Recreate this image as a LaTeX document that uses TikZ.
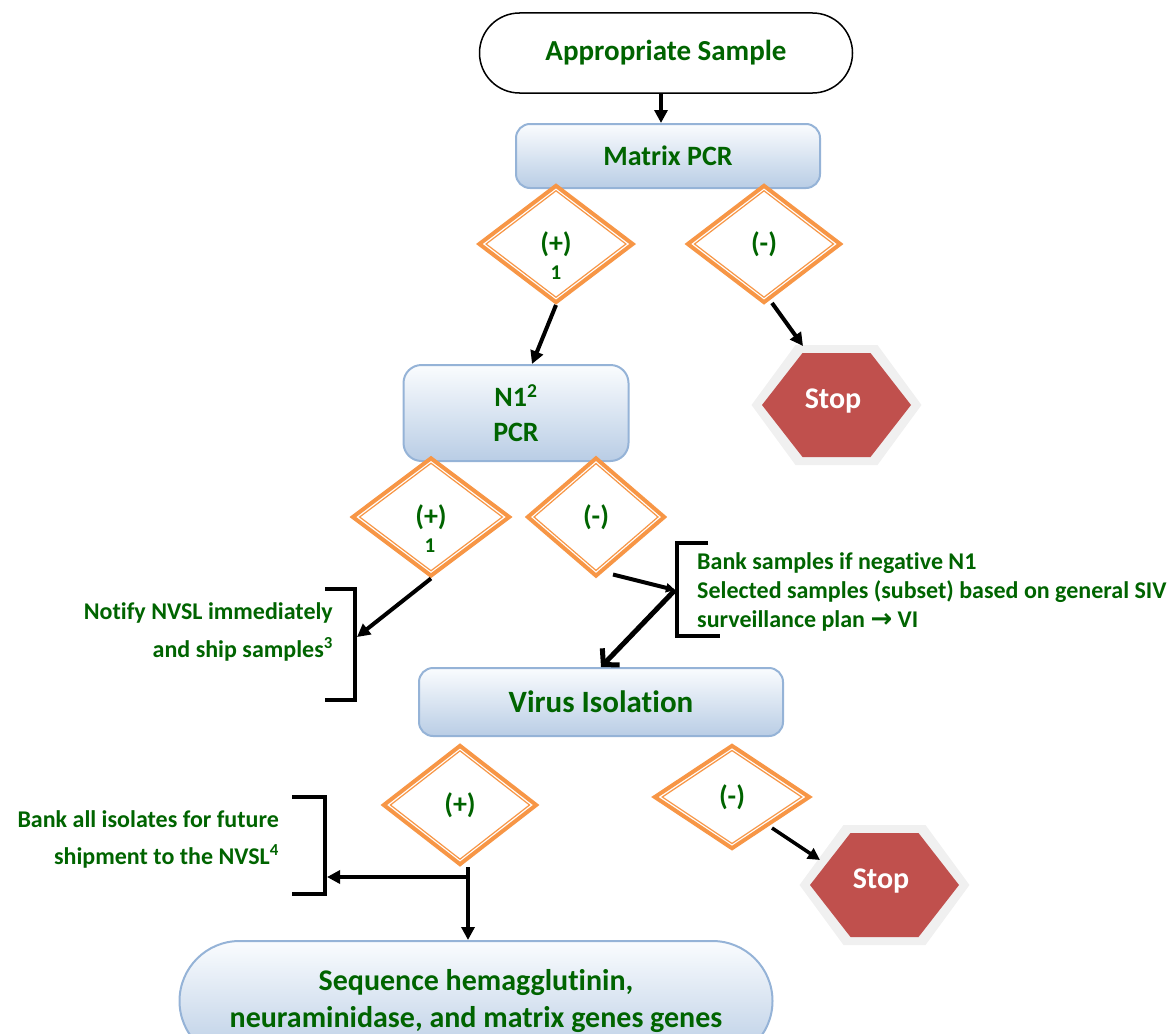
\documentclass[tikz,border=0pt]{standalone}
\usepackage{fontspec}
\setmainfont{Carlito}[Ligatures=NoCommon]
\newfontfamily\djv{DejaVu Sans}
\usetikzlibrary{shapes.geometric,arrows.meta,calc}
\definecolor{tgreen}{RGB}{0,100,0}
\definecolor{dorange}{RGB}{247,150,70}
\definecolor{boxedge}{RGB}{149,179,215}
\definecolor{boxtop}{RGB}{250,252,254}
\definecolor{boxbot}{RGB}{185,205,229}
\definecolor{stopred}{RGB}{192,80,77}
\definecolor{stopgray}{RGB}{240,240,240}
\newcommand\fsz[2]{\fontsize{#1}{#2}\selectfont}
\begin{document}
\begin{tikzpicture}[x=1pt,y=-1pt,
  pbox/.style={rectangle, rounded corners=14pt, draw=boxedge, line width=2pt,
    top color=boxtop, bottom color=boxbot, text=tgreen, align=center,
    inner sep=0pt, font=\bfseries\fsz{28}{35}},
  dia/.style={diamond, draw=dorange, line width=4pt, fill=white, inner sep=0pt,
    text=tgreen, font=\bfseries\fsz{28}{32}},
  dnum/.style={text=tgreen, font=\bfseries\fsz{21}{24}, inner sep=0pt},
  note/.style={text=tgreen, font=\bfseries\fsz{24}{#1}, inner sep=0pt},
  arr/.style={line width=4pt, -{Triangle[length=13pt,width=13pt]}},
  brk/.style={line width=4pt},
  ]
\path[use as bounding box] (0,0) rectangle (1169,1033);

% stop hexagons
\foreach \cx/\cy in {836.5/405, 884.5/885} {
  \fill[stopgray] (\cx-85,\cy) -- (\cx-41,\cy-60) -- (\cx+41,\cy-60) -- (\cx+85,\cy)
     -- (\cx+41,\cy+60) -- (\cx-41,\cy+60) -- cycle;
  \fill[stopred] (\cx-74.5,\cy) -- (\cx-34,\cy-52) -- (\cx+34,\cy-52) -- (\cx+74.5,\cy)
     -- (\cx+34,\cy+52) -- (\cx-34,\cy+52) -- cycle;
}
\node[text=white, font=\bfseries\fsz{30}{36}] (stop1) at (833,401) {Stop};
\node[text=white, font=\bfseries\fsz{30}{36}] (stop2) at (881,881) {Stop};

% boxes
\node[rectangle, rounded corners=40pt, draw=black, line width=1.5pt, fill=white,
  minimum width=373pt, minimum height=80pt, text=tgreen,
  font=\bfseries\fsz{29}{35}] (start) at (666,53) {Appropriate Sample};
\node[pbox, minimum width=304pt, minimum height=64pt] (mpcr) at (668,156) {Matrix PCR};
\node[pbox, rounded corners=18pt, minimum width=225pt, minimum height=96pt] (n1) at (516,413) {N1\textsuperscript{2}\\PCR};
\node[pbox, minimum width=364pt, minimum height=68pt, font=\bfseries\fsz{31}{36}] (vi) at (601,702) {Virus Isolation};
\node[pbox, rounded corners=60pt, minimum width=593pt, minimum height=120pt,
  font=\bfseries\fsz{30}{37}] (seq) at (476,1001) {Sequence hemagglutinin,\\neuraminidase, and matrix genes genes};

% diamonds
\node[dia, minimum width=155pt, minimum height=118pt] (d1) at (556,244) {(+)};
\node[dnum] (d1n) at (556,273) {1};
\node[dia, minimum width=154pt, minimum height=118pt] (d2) at (764,244) {(-)};
\node[dia, minimum width=158pt, minimum height=119pt] (d3) at (431,517) {(+)};
\node[dnum] (d3n) at (430,546) {1};
\node[dia, minimum width=138pt, minimum height=119pt] (d4) at (596,517) {(-)};
\node[dia, minimum width=154pt, minimum height=120pt] (d5) at (460,805) {(+)};
\node[dia, minimum width=156pt, minimum height=104pt] (d6) at (732,797) {(-)};

\foreach \n/\a/\b in {d1/77.5/59, d2/77/59, d3/79/59.5, d4/69/59.5, d5/77/60, d6/78/52} {
  \pgfmathsetmacro\hx{\a - 4.6*sqrt(\a*\a+\b*\b)/\b}
  \pgfmathsetmacro\hy{\b - 4.6*sqrt(\a*\a+\b*\b)/\a}
  \draw[dorange, line width=1.2pt] ($(\n.center)+(-\hx,0)$) -- ($(\n.center)+(0,-\hy)$)
     -- ($(\n.center)+(\hx,0)$) -- ($(\n.center)+(0,\hy)$) -- cycle;
}

% notes
\node[note=38, align=right, anchor=east] (nt1) at (333,632) {Notify NVSL immediately\\and ship samples\textsuperscript{3}};
\node[note=29, align=left, anchor=west] (nt2) at (697,592) {Bank samples if negative N1\\Selected samples (subset) based on general SIV\\surveillance plan {\djv\bfseries\fsz{26}{29}→} VI};
\node[note=37, align=right, anchor=east] (nt3) at (279,839) {Bank all isolates for future\\shipment to the NVSL\textsuperscript{4}};

% brackets
\draw[brk] (325,589) -- (355,589) -- (355,700) -- (325,700);
\draw[brk] (708,543) -- (677,543) -- (677,636) -- (720,636);
\draw[brk] (292,797) -- (325,797) -- (325,894) -- (292,894);

% connector end points
\coordinate (s1top) at (803,346);
\coordinate (b1) at (357,637);
\coordinate (b2) at (675,590);
\coordinate (j) at (468,877);
\coordinate (b3) at (327,877);
\coordinate (s2in) at (820,860);

% connectors
\draw[arr] ([xshift=-5pt]start.south) -- ([xshift=-7pt]mpcr.north);
\draw[arr] (d1.south) -- ([xshift=16pt]n1.north);
\draw[arr] ([xshift=8pt,yshift=2pt]d2.south) -- (s1top);
\draw[arr] (d3.south) -- (b1);
\draw[line width=4pt, -{Triangle[length=9pt,width=9pt]}] ([xshift=17pt,yshift=4pt]d4.south) -- (b2);
\draw[line width=5pt, -{Straight Barb[length=11pt,width=24pt]}] (b2) -- (vi.north);
\draw[line width=4pt] (d5.south -| j) -- (j);
\draw[arr] (j) -- (b3);
\draw[arr] (j) -- (seq.north -| j);
\draw[line width=3.5pt, -{Triangle[length=12pt,width=12pt]}] ([xshift=40pt,yshift=-31pt]d6.center) -- (s2in);
\end{tikzpicture}
\end{document}
